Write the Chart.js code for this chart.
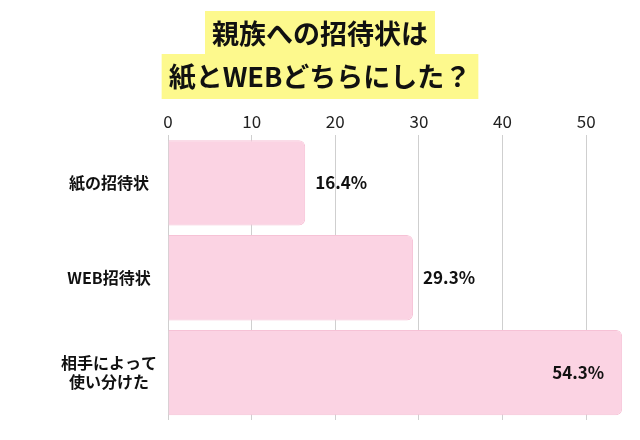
<!DOCTYPE html>
<html><head><meta charset="utf-8">
<script src="https://cdn.jsdelivr.net/npm/chart.js@4"></script>
<style>html,body{margin:0;background:#fff}#w{width:640px;height:440px}</style>
</head><body><div id="w"><canvas id="c"></canvas></div>
<script>
const categories = [["紙の招待状"], ["WEB招待状"], ["相手によって", "使い分けた"]];
const values = [16.4, 29.3, 54.3];
const tickValues = [0, 10, 20, 30, 40, 50];
const titleLines = ["親族への招待状は", "紙とWEBどちらにした？"];
const FONT = '"Noto Sans CJK JP", sans-serif';

const titlePlugin = {
  id: 'titleHL',
  beforeDraw(chart) {
    const ctx = chart.ctx;
    ctx.save();
    ctx.font = 'bold 27px ' + FONT;
    ctx.textAlign = 'center'; ctx.textBaseline = 'middle';
    const cx = 320, ys = [33, 76];
    titleLines.forEach((t, i) => {
      const w = ctx.measureText(t).width + 14;
      ctx.fillStyle = '#FDF98D';
      ctx.fillRect(cx - w / 2, ys[i] - 22, w, 45);
    });
    ctx.fillStyle = '#111';
    titleLines.forEach((t, i) => ctx.fillText(t, cx, ys[i] + 1));
    ctx.restore();
  },
  afterDatasetsDraw(chart) {
    const ctx = chart.ctx;
    const meta = chart.getDatasetMeta(0);
    ctx.save();
    ctx.font = 'bold 17px ' + FONT;
    ctx.fillStyle = '#111';
    ctx.textBaseline = 'middle';
    meta.data.forEach((b, i) => {
      const t = values[i].toFixed(1) + '%';
      if (values[i] > 45) { ctx.textAlign = 'right'; ctx.fillText(t, b.x - 18, b.y); }
      else { ctx.textAlign = 'left'; ctx.fillText(t, b.x + 10, b.y); }
    });
    ctx.restore();
  }
};

new Chart(document.getElementById('c'), {
  type: 'bar',
  data: { labels: categories, datasets: [{ data: values,
    backgroundColor: '#FBD3E3', borderColor: '#F6C2D6', borderWidth: 1,
    borderSkipped: 'left', borderRadius: { topRight: 6, bottomRight: 6 },
    categoryPercentage: 0.9, barPercentage: 1 }] },
  options: {
    indexAxis: 'y', responsive: true, maintainAspectRatio: false, animation: false,
    layout: { padding: { top: 107, right: 12, bottom: 20, left: 0 } },
    plugins: { legend: { display: false }, tooltip: { enabled: false } },
    scales: {
      x: { position: 'top', min: 0, max: 55,
        afterBuildTicks(s) { s.ticks = tickValues.map(v => ({ value: v })); },
        ticks: { font: { size: 17, family: FONT }, color: '#222', padding: 4 },
        grid: { color: '#cfcfcf', drawTicks: false }, border: { display: false } },
      y: { afterFit(s) { s.width = 168; },
        ticks: { crossAlign: 'center', font: { size: 16, weight: 'bold', family: FONT }, color: '#111' },
        grid: { display: false }, border: { display: false } }
    }
  },
  plugins: [titlePlugin]
});
</script></body></html>
